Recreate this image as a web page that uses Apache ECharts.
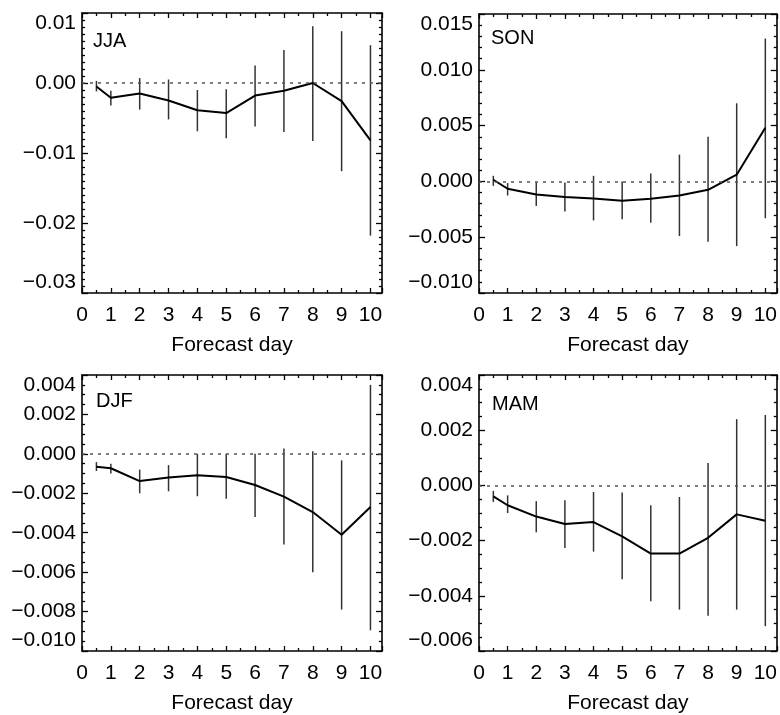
<!DOCTYPE html>
<html>
<head>
<meta charset="utf-8">
<script src="https://cdn.jsdelivr.net/npm/echarts@6/dist/echarts.min.js"></script>
<style>
html,body{margin:0;padding:0;background:#fff;}
#main{width:780px;height:715px;}
</style>
</head>
<body>
<div id="main"></div>
<script>
// forecast days (first point is day 0.5)
var days = [0.5, 1, 2, 3, 4, 5, 6, 7, 8, 9, 10]

var seasons = ["JJA", "SON", "DJF", "MAM"]

// JJA
var jjaMean = [-0.0005, -0.0021, -0.0015, -0.0025, -0.0039, -0.0043, -0.0018, -0.0011, 0.0000, -0.0026, -0.0082]
var jjaLow  = [-0.0012, -0.0032, -0.0038, -0.0052, -0.0069, -0.0079, -0.0062, -0.0070, -0.0083, -0.0126, -0.0218]
var jjaHigh = [0.0003, -0.0011, 0.0007, 0.0005, -0.0010, -0.0009, 0.0025, 0.0047, 0.0081, 0.0074, 0.0054]

// SON
var sonMean = [0.00015, -0.00066, -0.00117, -0.0014, -0.00153, -0.00173, -0.00155, -0.00126, -0.00075, 0.0006, 0.0048]
var sonLow  = [-0.0004, -0.00126, -0.0022, -0.0027, -0.0035, -0.0034, -0.0037, -0.0049, -0.0054, -0.0058, -0.0033]
var sonHigh = [0.0005, -0.00015, -0.0001, -0.0001, 0.0005, 0.0000, 0.0007, 0.0024, 0.0040, 0.0070, 0.0128]

// DJF
var djfMean = [-0.00065, -0.00073, -0.00138, -0.0012, -0.00108, -0.00117, -0.00158, -0.00217, -0.00295, -0.0041, -0.0027]
var djfLow  = [-0.00087, -0.0010, -0.0020, -0.0019, -0.00215, -0.00228, -0.0032, -0.0046, -0.0060, -0.0079, -0.00895]
var djfHigh = [-0.00042, -0.0005, -0.0008, -0.00057, 0.0000, 0.0000, 0.0000, 0.00027, 0.00013, -0.00033, 0.0035]

// MAM
var mamMean = [-0.0004, -0.00072, -0.00113, -0.0014, -0.00133, -0.00185, -0.00247, -0.00247, -0.0019, -0.00105, -0.00128]
var mamLow  = [-0.0006, -0.0010, -0.0017, -0.00227, -0.0024, -0.0034, -0.0042, -0.0045, -0.00472, -0.0045, -0.0051]
var mamHigh = [-0.0002, -0.00036, -0.00057, -0.00054, -0.00024, -0.00026, -0.00072, -0.00042, 0.00081, 0.0024, 0.00255]

// y axis ranges
var yMin = [-0.03, -0.010, -0.010, -0.006]
var yMax = [0.01, 0.015, 0.004, 0.004]
var yStep = [0.01, 0.005, 0.002, 0.002]
var yDecimals = [2, 3, 3, 3]
var yMinorSplit = [10, 5, 4, 4]

var means = [jjaMean, sonMean, djfMean, mamMean]
var lows = [jjaLow, sonLow, djfLow, mamLow]
var highs = [jjaHigh, sonHigh, djfHigh, mamHigh]

var FONT = "'Liberation Sans', Arial, Helvetica, sans-serif"
var grids = [
	{left: 82, top: 13, width: 300, height: 280},
	{left: 479, top: 14, width: 300, height: 279},
	{left: 82, top: 375, width: 300, height: 279},
	{left: 479, top: 375, width: 300, height: 279}
]
var titlePos = [[93, 31], [491, 28], [96, 391], [492, 394]]

var option = {
	backgroundColor: "#fff",
	animation: false,
	title: [],
	grid: [],
	xAxis: [],
	yAxis: [],
	series: []
}

var frameLine = {show: true, onZero: false, lineStyle: {color: "#000", width: 1.6}}
var majorTick = {inside: true, length: 5, lineStyle: {color: "#000", width: 1.3}}

seasons.forEach(function(name, i){
	option.grid.push(grids[i])
	option.title.push({
		text: name,
		left: titlePos[i][0],
		top: titlePos[i][1],
		padding: 0,
		textStyle: {fontFamily: FONT, fontSize: 20, fontWeight: "normal", color: "#000"}
	})
	// bottom x axis with labels
	option.xAxis.push({
		type: "value", gridIndex: i, position: "bottom", min: 0, max: 10.4, interval: 1,
		name: "Forecast day", nameLocation: "middle", nameGap: 42,
		nameTextStyle: {fontFamily: FONT, fontSize: 21, color: "#000"},
		axisLine: frameLine,
		axisTick: majorTick,
		minorTick: {show: true, splitNumber: 2, length: 3, lineStyle: {color: "#000", width: 1.3}},
		axisLabel: {fontFamily: FONT, fontSize: 21, color: "#000", margin: 12, showMaxLabel: false},
		splitLine: {show: false}
	})
	// top x axis, frame + ticks only
	option.xAxis.push({
		type: "value", gridIndex: i, position: "top", min: 0, max: 10.4, interval: 1,
		axisLine: frameLine,
		axisTick: majorTick,
		minorTick: {show: true, splitNumber: 2, length: 3, lineStyle: {color: "#000", width: 1.3}},
		axisLabel: {show: false},
		splitLine: {show: false}
	})
	var dec = yDecimals[i]
	option.yAxis.push({
		type: "value", gridIndex: i, position: "left", min: yMin[i], max: yMax[i], interval: yStep[i],
		axisLine: frameLine,
		axisTick: {inside: true, length: 6, lineStyle: {color: "#000", width: 1.3}},
		minorTick: {show: true, splitNumber: yMinorSplit[i], length: 3, lineStyle: {color: "#000", width: 1.3}},
		axisLabel: {
			fontFamily: FONT, fontSize: 21, color: "#000", margin: 6,
			verticalAlignMaxLabel: "top", verticalAlignMinLabel: "bottom",
			formatter: function(v){
				return v.toFixed(dec).replace("-", "\u2212")
			}
		},
		splitLine: {show: false}
	})
	option.yAxis.push({
		type: "value", gridIndex: i, position: "right", min: yMin[i], max: yMax[i], interval: yStep[i],
		axisLine: frameLine,
		axisTick: {inside: true, length: 6, lineStyle: {color: "#000", width: 1.3}},
		minorTick: {show: true, splitNumber: yMinorSplit[i], length: 3, lineStyle: {color: "#000", width: 1.3}},
		axisLabel: {show: false},
		splitLine: {show: false}
	})

	var lineData = days.map(function(d, k){ return [d, means[i][k]] })
	var barData = days.map(function(d, k){ return [d, lows[i][k], highs[i][k]] })

	// error bars
	option.series.push({
		type: "custom",
		xAxisIndex: i * 2, yAxisIndex: i * 2,
		encode: {x: 0, y: [1, 2]},
		data: barData,
		renderItem: function(params, api){
			var p1 = api.coord([api.value(0), api.value(1)])
			var p2 = api.coord([api.value(0), api.value(2)])
			return {
				type: "line",
				shape: {x1: p1[0], y1: p1[1], x2: p2[0], y2: p2[1]},
				style: {stroke: "#333", lineWidth: 1.5}
			}
		},
		z: 2
	})
	// mean line + zero reference
	option.series.push({
		type: "line",
		xAxisIndex: i * 2, yAxisIndex: i * 2,
		data: lineData,
		symbol: "none",
		lineStyle: {color: "#000", width: 2},
		z: 3,
		markLine: {
			silent: true,
			symbol: "none",
			label: {show: false},
			lineStyle: {color: "#555", width: 1.5, type: [3, 5]},
			data: [{yAxis: 0}]
		}
	})
})

var myChart = echarts.init(document.getElementById("main"))
myChart.setOption(option)
</script>
</body>
</html>
